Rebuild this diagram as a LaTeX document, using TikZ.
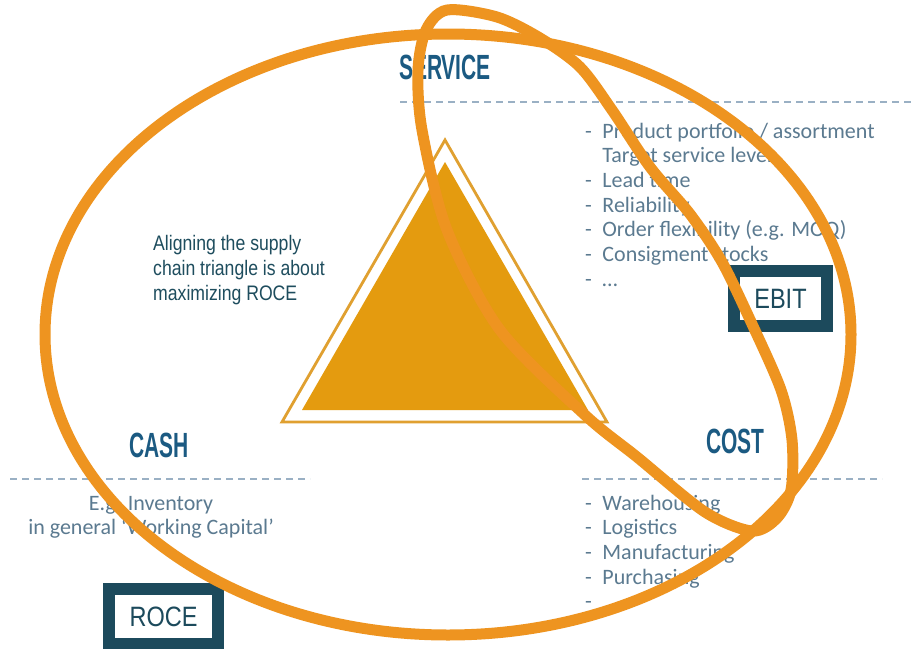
\documentclass[tikz,border=0pt]{standalone}
\usepackage{fontspec}
\setmainfont{Carlito}
\newfontfamily\headfont[FakeStretch=0.6]{Liberation Sans}
\newfontfamily\narrowfont[FakeStretch=0.84]{Liberation Sans}
\definecolor{ringorange}{HTML}{EE9420}
\definecolor{trifill}{HTML}{E49B0F}
\definecolor{triline}{HTML}{E0A030}
\definecolor{headblue}{HTML}{1B5A82}
\definecolor{listgrey}{HTML}{5B7A90}
\definecolor{dashblue}{HTML}{9AB0C4}
\definecolor{boxteal}{HTML}{1C4A5C}
\definecolor{notetext}{HTML}{1E4D5E}
\begin{document}
\begin{tikzpicture}[x=1pt,y=-1pt,
  heading/.style={font=\headfont\bfseries\fontsize{35}{35}\selectfont, text=headblue, inner sep=0},
  listtext/.style={font=\fontsize{22}{24.7}\selectfont, text=listgrey, inner sep=0},
  sepline/.style={draw=dashblue, line width=1.4pt, dash pattern=on 7pt off 5pt},
  ring/.style={draw=ringorange, line width=11pt},
  kpibox/.style={draw=boxteal, line width=12pt, fill=white},
  kpitext/.style={font=\narrowfont\fontsize{28}{28}\selectfont, text=boxteal, inner sep=0},
  note/.style={font=\narrowfont\fontsize{21}{25}\selectfont, text=notetext, inner sep=0}]
\useasboundingbox[fill=white] (0,0) rectangle (913,648);

% headings and separators
\node[heading] (service) at (445,67.5) {SERVICE};
\node[heading] (cash) at (159,445) {CASH};
\node[heading] (cost) at (735.5,441) {COST};
\draw[sepline] (400,102) -- (913,102);
\draw[sepline] (10,479) -- (310,479);
\draw[sepline] (582,479) -- (882,479);

% lists
\node[listtext, anchor=base west] (servicelist) at (585,138) {%
\begin{tabular}[t]{@{}l@{\hspace{10.5pt}}l@{}}
- & Product portfolio / assortment\\
  & Target service level\\
- & Lead time\\
- & Reliability\\
- & Order flexibility (e.g. MOQ)\\
- & Consigment stocks\\
- & \dots
\end{tabular}};
\node[listtext, anchor=base west] (costlist) at (585,510) {%
\begin{tabular}[t]{@{}l@{\hspace{10.5pt}}l@{}}
- & Warehousing\\
- & Logistics\\
- & Manufacturing\\
- & Purchasing\\
- &
\end{tabular}};
\node[listtext, anchor=base] (cashlist) at (151,510) {%
\begin{tabular}[t]{@{}c@{}}
E.g. Inventory\\
in general ‘Working Capital’
\end{tabular}};

\node[note, anchor=base west] (aligning) at (153,250) {%
\begin{tabular}[t]{@{}l@{}}
Aligning the supply\\
chain triangle is about\\
maximizing ROCE
\end{tabular}};

% triangle
\draw[triline, line width=2.8pt, line join=miter] (445,140) -- (282,422) -- (607,422) -- cycle;
\fill[trifill] (445,162) -- (302,410) -- (588,410) -- cycle;

% KPI boxes
\draw[kpibox] (734,271) rectangle (827,326);
\node[kpitext] (ebit) at (780.5,299) {EBIT};
\draw[kpibox] (109,589) rectangle (218,644);
\node[kpitext] (roce) at (163.5,617) {ROCE};

% rings
\draw[ring] (448,334.5) ellipse [x radius=403, y radius=300.5];
\draw[ring] plot[smooth cycle] coordinates {
 (447,10) (497,17) (540,38) (580,67) (612,110) (650,167) (690,214) (722,262)
 (752,324) (781,390) (792,440) (791,490) (777,518) (752,531) (705,512)
 (637,457) (585,415) (500,330) (447,230) (422,130) (418,70) (426,30)};
\end{tikzpicture}
\end{document}
